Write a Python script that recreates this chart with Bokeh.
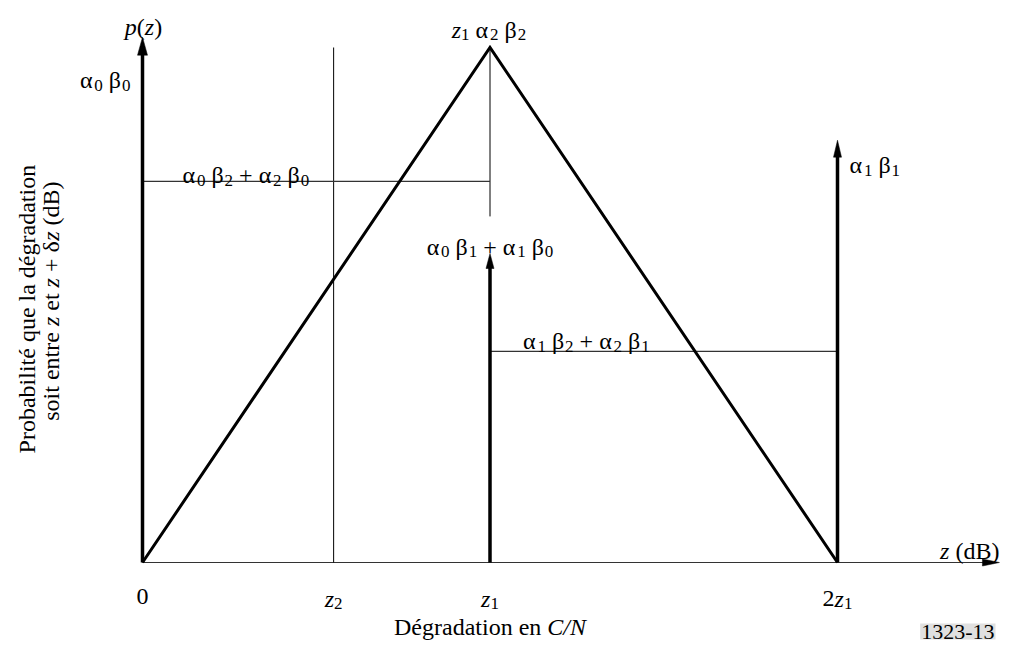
import math
from bokeh.plotting import figure
from bokeh.models import Range1d, Label
from bokeh.core.properties import value
from bokeh.embed import file_html
from bokeh.resources import INLINE

# ---------------- data (z in units of z1, p in units of the peak z1*a2*b2) -------------
tick_z = [0.0, 0.55, 1.0, 2.0]
tick_labels = ["0", "*z*_2", "*z*_1", "2*z*_1"]

tri_z = [0.0, 1.0, 2.0]
tri_p = [0.0, 1.0, 0.0]

impulse_z = [0.0, 1.0, 2.0]
impulse_p = [1.02, 0.60, 0.82]
impulse_labels = ["α_0 β_0", "α_0 β_1 + α_1 β_0", "α_1 β_1"]

step_z0 = [0.0, 1.0]
step_z1 = [1.0, 2.0]
step_p = [0.74, 0.41]
step_labels = ["α_0 β_2 + α_2 β_0", "α_1 β_2 + α_2 β_1"]

guide_z = [0.55, 1.0]
guide_p0 = [0.0, 0.672]
guide_p1 = [1.0, 1.0]

peak_label = "*z*_1 α_2 β_2"
axis_end = 2.466

# ---------------- figure ----------------
W, H = 1001, 643
KX = 347.5          # px per z1
KY = 515.0          # px per peak unit
ORG_X, ORG_Y = 142, 562   # plot-pixel position of (0, 0)
x0, x1 = -ORG_X / KX, (W - ORG_X) / KX
y0, y1 = -(H - ORG_Y) / KY, ORG_Y / KY

p = figure(width=W, height=H, x_range=Range1d(x0, x1), y_range=Range1d(y0, y1),
           output_backend="svg", toolbar_location=None,
           x_axis_location=None, y_axis_location=None, min_border=0)
p.grid.visible = False
p.outline_line_color = None
p.background_fill_color = "white"
p.border_fill_color = "white"

FONT = "Liberation Serif"
MAIN = 24
SUB = 17
SUB_DROP = 5

CW = {' ': .25, '+': .564, 'α': .60, 'β': .55, 'δ': .49, 'z': .389, 'p': .5, '(': .333,
      ')': .333, 'd': .5, 'B': .667, '0': .5, '1': .5, '2': .5, '3': .5, '-': .333,
      'C': .667, '/': .278, 'N': .667, 'D': .722, 'é': .444, 'g': .5, 'r': .333,
      'a': .444, 't': .278, 'i': .278, 'o': .5, 'n': .5, 'e': .444, 's': .389,
      'P': .556, 'b': .5, 'l': .278, 'q': .5, 'u': .5}


def parse(markup):
    """'*...*' italic, '_c' subscript char. Returns list of (text, italic, sub)."""
    runs = []
    ital = False
    i = 0
    cur = ""

    def flush():
        nonlocal cur
        if cur:
            runs.append((cur, ital, False))
        cur = ""
    while i < len(markup):
        c = markup[i]
        if c == '*':
            flush()
            ital = not ital
        elif c == '_':
            flush()
            runs.append((markup[i + 1], False, True))
            i += 1
        else:
            cur += c
        i += 1
    flush()
    return runs


def rwidth(t, sub):
    size = SUB if sub else MAIN
    return sum(CW.get(c, 0.45) for c in t) * size


def draw_label(x, y, markup, align="left", dx=0.0, dy=0.0, angle=0.0):
    runs = parse(markup)
    widths = [rwidth(t, s) for t, _, s in runs]
    total = sum(widths)
    start = {"left": 0.0, "center": -total / 2, "right": -total}[align]
    pos = start
    for (t, ital, sub), w in zip(runs, widths):
        lead = len(t) - len(t.lstrip(' '))
        core = t.strip(' ')
        off = pos + rwidth(' ' * lead, sub)
        if core:
            if angle == 0:
                xo, yo = dx + off, dy + (SUB_DROP if sub else 0)
            else:
                xo, yo = dx + (SUB_DROP if sub else 0), dy - off
            p.text(x=[x], y=[y], text=[core], x_offset=xo, y_offset=yo, angle=angle,
                   text_font=value(FONT), text_font_size=f"{SUB if sub else MAIN}px",
                   text_font_style="italic" if ital else "normal",
                   text_align="left", text_baseline="alphabetic", text_color="black")
        pos += w


def vhead(x, ytip, length, half):
    p.patch([x - half / KX, x, x + half / KX],
            [ytip - length / KY, ytip, ytip - length / KY],
            fill_color="black", line_color="black", line_width=0.5)


def hhead(xtip, y, length, half):
    p.patch([xtip - length / KX, xtip, xtip - length / KX],
            [y + half / KY, y, y - half / KY],
            fill_color="black", line_color="black", line_width=0.5)


# z axis
p.line([0.0, axis_end - 10 / KX], [0.0, 0.0], line_color="#333333", line_width=1.2)
hhead(axis_end, 0.0, 17, 3.5)

# thin guides
for gz, a, b in zip(guide_z, guide_p0, guide_p1):
    p.line([gz, gz], [a, b], line_color="black", line_width=1)

# steps
p.line(step_z0, [step_p[0], step_p[0]], line_color="#333333", line_width=1.2)
p.line(step_z1, [step_p[1], step_p[1]], line_color="#333333", line_width=1.2)

# triangle
p.line(tri_z, tri_p, line_color="black", line_width=3, line_join="miter")

# impulses
heads = [(18, 5), (15, 4), (17, 4)]
for iz, ip, (L, hw) in zip(impulse_z, impulse_p, heads):
    p.line([iz, iz], [0.0, ip - 0.7 * L / KY], line_color="black", line_width=3.5)
    vhead(iz, ip, L, hw)

# labels
draw_label(impulse_z[0], impulse_p[0], "*p*(*z*)", "center", dx=1, dy=-10)
draw_label(impulse_z[0], impulse_p[0], impulse_labels[0], "right", dx=-12, dy=43)
draw_label(impulse_z[1], impulse_p[1], impulse_labels[1], "center", dx=0, dy=-7)
draw_label(impulse_z[2], impulse_p[2], impulse_labels[2], "left", dx=12, dy=25)
draw_label(step_z0[0], step_p[0], step_labels[0], "left", dx=40, dy=-6)
draw_label(step_z1[0], step_p[1], step_labels[1], "left", dx=33, dy=-10)
draw_label(tri_z[1], tri_p[1], peak_label, "center", dx=-1, dy=-18)
draw_label(axis_end, 0.0, "*z* (dB)", "right", dx=0, dy=-12)

for tz, tl in zip(tick_z, tick_labels):
    draw_label(tz, 0.0, tl, "center", dx=0, dy=36 if tz > 0 else 34)

draw_label(1.0, 0.0, "Dégradation en *C/N*", "center", dx=0, dy=64)

draw_label(0.0, 0.492, "Probabilité que la dégradation", "center", dx=-116, dy=0, angle=math.pi / 2)
draw_label(0.0, 0.492, "soit entre *z* et *z* + δ*z* (dB)", "center", dx=-92, dy=-8, angle=math.pi / 2)

p.add_layout(Label(x=W - 6, y=4, x_units="screen", y_units="screen", text="1323-13",
                   text_align="right", text_baseline="bottom",
                   text_font=FONT, text_font_size="22px", text_color="black",
                   background_fill_color="#e0e0e0", padding=1))

open("out.html", "w").write(file_html(p, INLINE))
